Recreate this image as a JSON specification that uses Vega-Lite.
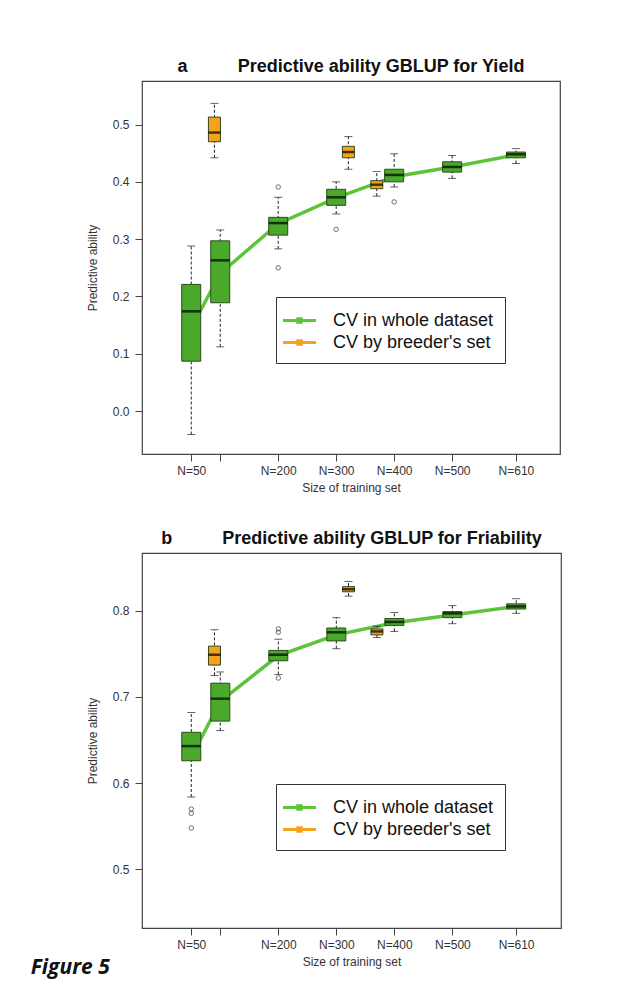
{
  "$schema": "https://vega.github.io/schema/vega-lite/v6.json",
  "background": "white",
  "padding": {"left": 30, "top": 57, "right": 20, "bottom": 10},
  "title": {"text": "Figure 5", "orient": "bottom", "anchor": "start", "font": "Open Sans", "fontSize": 21, "fontStyle": "italic", "fontWeight": "bold", "color": "#111", "dx": -55, "dy": -16},
  "spacing": 35,
  "datasets": {
    "boxA": [
      {"N": 50, "series": "CV in whole dataset", "min": -0.041, "q1": 0.087, "median": 0.174, "q3": 0.221, "max": 0.288},
      {"N": 100, "series": "CV in whole dataset", "min": 0.112, "q1": 0.189, "median": 0.263, "q3": 0.297, "max": 0.316},
      {"N": 200, "series": "CV in whole dataset", "min": 0.283, "q1": 0.307, "median": 0.328, "q3": 0.338, "max": 0.373},
      {"N": 300, "series": "CV in whole dataset", "min": 0.344, "q1": 0.359, "median": 0.373, "q3": 0.387, "max": 0.400},
      {"N": 400, "series": "CV in whole dataset", "min": 0.391, "q1": 0.400, "median": 0.412, "q3": 0.422, "max": 0.449},
      {"N": 500, "series": "CV in whole dataset", "min": 0.406, "q1": 0.417, "median": 0.426, "q3": 0.435, "max": 0.446},
      {"N": 610, "series": "CV in whole dataset", "min": 0.432, "q1": 0.442, "median": 0.448, "q3": 0.452, "max": 0.458},
      {"N": 90, "series": "CV by breeder's set", "min": 0.442, "q1": 0.470, "median": 0.486, "q3": 0.513, "max": 0.537},
      {"N": 321, "series": "CV by breeder's set", "min": 0.422, "q1": 0.442, "median": 0.452, "q3": 0.462, "max": 0.479},
      {"N": 370, "series": "CV by breeder's set", "min": 0.375, "q1": 0.388, "median": 0.395, "q3": 0.402, "max": 0.418}
    ],
    "outA": [
      {"N": 200, "value": 0.391},
      {"N": 200, "value": 0.250},
      {"N": 300, "value": 0.317},
      {"N": 400, "value": 0.365}
    ],
    "meanA": [
      {"N": 50, "series": "CV in whole dataset", "mean": 0.145},
      {"N": 100, "series": "CV in whole dataset", "mean": 0.240},
      {"N": 200, "series": "CV in whole dataset", "mean": 0.327},
      {"N": 300, "series": "CV in whole dataset", "mean": 0.372},
      {"N": 400, "series": "CV in whole dataset", "mean": 0.409},
      {"N": 500, "series": "CV in whole dataset", "mean": 0.426},
      {"N": 610, "series": "CV in whole dataset", "mean": 0.447}
    ],
    "boxB": [
      {"N": 50, "series": "CV in whole dataset", "min": 0.584, "q1": 0.626, "median": 0.643, "q3": 0.659, "max": 0.682},
      {"N": 100, "series": "CV in whole dataset", "min": 0.661, "q1": 0.672, "median": 0.698, "q3": 0.716, "max": 0.729},
      {"N": 200, "series": "CV in whole dataset", "min": 0.726, "q1": 0.742, "median": 0.749, "q3": 0.754, "max": 0.767},
      {"N": 300, "series": "CV in whole dataset", "min": 0.756, "q1": 0.765, "median": 0.775, "q3": 0.780, "max": 0.792},
      {"N": 400, "series": "CV in whole dataset", "min": 0.776, "q1": 0.783, "median": 0.787, "q3": 0.791, "max": 0.798},
      {"N": 500, "series": "CV in whole dataset", "min": 0.785, "q1": 0.792, "median": 0.797, "q3": 0.799, "max": 0.806},
      {"N": 610, "series": "CV in whole dataset", "min": 0.797, "q1": 0.802, "median": 0.805, "q3": 0.808, "max": 0.814},
      {"N": 90, "series": "CV by breeder's set", "min": 0.725, "q1": 0.737, "median": 0.749, "q3": 0.759, "max": 0.778},
      {"N": 321, "series": "CV by breeder's set", "min": 0.817, "q1": 0.822, "median": 0.825, "q3": 0.828, "max": 0.834},
      {"N": 370, "series": "CV by breeder's set", "min": 0.769, "q1": 0.772, "median": 0.776, "q3": 0.779, "max": 0.782}
    ],
    "outB": [
      {"N": 50, "value": 0.570},
      {"N": 50, "value": 0.565},
      {"N": 50, "value": 0.548},
      {"N": 200, "value": 0.779},
      {"N": 200, "value": 0.775},
      {"N": 200, "value": 0.722}
    ],
    "meanB": [
      {"N": 50, "series": "CV in whole dataset", "mean": 0.630},
      {"N": 100, "series": "CV in whole dataset", "mean": 0.695},
      {"N": 200, "series": "CV in whole dataset", "mean": 0.748},
      {"N": 300, "series": "CV in whole dataset", "mean": 0.772},
      {"N": 400, "series": "CV in whole dataset", "mean": 0.786},
      {"N": 500, "series": "CV in whole dataset", "mean": 0.795},
      {"N": 610, "series": "CV in whole dataset", "mean": 0.805}
    ]
  },
  "vconcat": [
    {
      "width": 418,
      "height": 373,
      "title": {"text": "a\u00a0\u00a0\u00a0\u00a0\u00a0\u00a0\u00a0\u00a0\u00a0\u00a0Predictive ability GBLUP for Yield"},
      "encoding": {
        "x": {"field": "N", "type": "quantitative", "scale": {"domain": [-26.3, 677.4], "nice": false, "zero": false},
              "axis": {"values": [50, 100, 200, 300, 400, 500, 610], "labelExpr": "datum.value == 100 ? '' : 'N=' + datum.value", "title": "Size of training set"}}
      },
      "layer": [
        {
          "data": {"name": "meanA"},
          "mark": {"type": "line", "strokeWidth": 3.5},
          "encoding": {
            "y": {"field": "mean", "type": "quantitative", "title": "Predictive ability", "scale": {"domain": [-0.075, 0.576], "nice": false, "zero": false}, "axis": {"values": [0, 0.1, 0.2, 0.3, 0.4, 0.5], "format": ".1f"}},
            "stroke": {"field": "series", "type": "nominal",
              "scale": {"domain": ["CV in whole dataset", "CV by breeder's set"], "range": ["#5dc43a", "#f6a21d"]},
              "legend": {"orient": "none", "legendX": 134, "legendY": 216, "title": null, "direction": "vertical",
                "labelFont": "Liberation Sans", "labelFontSize": 18, "labelColor": "#111", "labelLimit": 300,
                "symbolType": "M-1.5,0H1.5M-0.16,-0.16H0.16V0.16H-0.16Z", "symbolSize": 484, "symbolStrokeWidth": 3,
                "symbolOffset": 0, "labelOffset": 21, "strokeColor": "#333", "fillColor": "#ffffff", "padding": 11, "rowPadding": 0}}
          }
        },
        {
          "data": {"name": "boxA"},
          "mark": {"type": "rule", "strokeDash": [3, 2], "color": "#222", "strokeWidth": 1},
          "encoding": {
            "y": {"field": "min", "type": "quantitative", "title": "Predictive ability", "scale": {"domain": [-0.075, 0.576], "nice": false, "zero": false}},
            "y2": {"field": "max"}
          }
        },
        {
          "data": {"name": "boxA"},
          "mark": {"type": "tick", "orient": "horizontal", "size": 8, "thickness": 1, "color": "#222"},
          "encoding": {
            "y": {"field": "min", "type": "quantitative", "title": "Predictive ability", "scale": {"domain": [-0.075, 0.576], "nice": false, "zero": false}}
          }
        },
        {
          "data": {"name": "boxA"},
          "mark": {"type": "tick", "orient": "horizontal", "size": 8, "thickness": 1, "color": "#222"},
          "encoding": {
            "y": {"field": "max", "type": "quantitative", "title": "Predictive ability", "scale": {"domain": [-0.075, 0.576], "nice": false, "zero": false}}
          }
        },
        {
          "data": {"name": "boxA"},
          "mark": {"type": "bar", "stroke": "#2e4a1c", "strokeWidth": 1},
          "encoding": {
            "y": {"field": "q1", "type": "quantitative", "title": "Predictive ability", "scale": {"domain": [-0.075, 0.576], "nice": false, "zero": false}},
            "y2": {"field": "q3"},
            "fill": {"field": "series", "type": "nominal", "scale": {"domain": ["CV in whole dataset", "CV by breeder's set"], "range": ["#4aa82b", "#f6a21d"]}, "legend": null},
            "size": {"field": "series", "type": "nominal", "scale": {"domain": ["CV in whole dataset", "CV by breeder's set"], "range": [19, 12]}, "legend": null}
          }
        },
        {
          "data": {"name": "boxA"},
          "mark": {"type": "tick", "orient": "horizontal", "thickness": 2.5, "color": "#000"},
          "encoding": {
            "y": {"field": "median", "type": "quantitative", "title": "Predictive ability", "scale": {"domain": [-0.075, 0.576], "nice": false, "zero": false}},
            "size": {"field": "series", "type": "nominal", "scale": {"domain": ["CV in whole dataset", "CV by breeder's set"], "range": [19, 12]}, "legend": null}
          }
        },
        {
          "data": {"name": "outA"},
          "mark": {"type": "point", "shape": "circle", "filled": false, "stroke": "#333", "strokeWidth": 1, "size": 20},
          "encoding": {
            "y": {"field": "value", "type": "quantitative", "title": "Predictive ability", "scale": {"domain": [-0.075, 0.576], "nice": false, "zero": false}}
          }
        }
      ]
    },
    {
      "width": 419,
      "height": 375,
      "title": {"text": "b\u00a0\u00a0\u00a0\u00a0\u00a0\u00a0\u00a0\u00a0\u00a0\u00a0Predictive ability GBLUP for Friability"},
      "encoding": {
        "x": {"field": "N", "type": "quantitative", "scale": {"domain": [-26.3, 678.6], "nice": false, "zero": false},
              "axis": {"values": [50, 100, 200, 300, 400, 500, 610], "labelExpr": "datum.value == 100 ? '' : 'N=' + datum.value", "title": "Size of training set"}}
      },
      "layer": [
        {
          "data": {"name": "meanB"},
          "mark": {"type": "line", "strokeWidth": 3.5},
          "encoding": {
            "y": {"field": "mean", "type": "quantitative", "title": "Predictive ability", "scale": {"domain": [0.432, 0.867], "nice": false, "zero": false}, "axis": {"values": [0.5, 0.6, 0.7, 0.8], "format": ".1f"}},
            "stroke": {"field": "series", "type": "nominal",
              "scale": {"domain": ["CV in whole dataset", "CV by breeder's set"], "range": ["#5dc43a", "#f6a21d"]},
              "legend": {"orient": "none", "legendX": 134, "legendY": 231, "title": null, "direction": "vertical",
                "labelFont": "Liberation Sans", "labelFontSize": 18, "labelColor": "#111", "labelLimit": 300,
                "symbolType": "M-1.5,0H1.5M-0.16,-0.16H0.16V0.16H-0.16Z", "symbolSize": 484, "symbolStrokeWidth": 3,
                "symbolOffset": 0, "labelOffset": 21, "strokeColor": "#333", "fillColor": "#ffffff", "padding": 11, "rowPadding": 0}}
          }
        },
        {
          "data": {"name": "boxB"},
          "mark": {"type": "rule", "strokeDash": [3, 2], "color": "#222", "strokeWidth": 1},
          "encoding": {
            "y": {"field": "min", "type": "quantitative", "title": "Predictive ability", "scale": {"domain": [0.432, 0.867], "nice": false, "zero": false}},
            "y2": {"field": "max"}
          }
        },
        {
          "data": {"name": "boxB"},
          "mark": {"type": "tick", "orient": "horizontal", "size": 8, "thickness": 1, "color": "#222"},
          "encoding": {
            "y": {"field": "min", "type": "quantitative", "title": "Predictive ability", "scale": {"domain": [0.432, 0.867], "nice": false, "zero": false}}
          }
        },
        {
          "data": {"name": "boxB"},
          "mark": {"type": "tick", "orient": "horizontal", "size": 8, "thickness": 1, "color": "#222"},
          "encoding": {
            "y": {"field": "max", "type": "quantitative", "title": "Predictive ability", "scale": {"domain": [0.432, 0.867], "nice": false, "zero": false}}
          }
        },
        {
          "data": {"name": "boxB"},
          "mark": {"type": "bar", "stroke": "#2e4a1c", "strokeWidth": 1},
          "encoding": {
            "y": {"field": "q1", "type": "quantitative", "title": "Predictive ability", "scale": {"domain": [0.432, 0.867], "nice": false, "zero": false}},
            "y2": {"field": "q3"},
            "fill": {"field": "series", "type": "nominal", "scale": {"domain": ["CV in whole dataset", "CV by breeder's set"], "range": ["#4aa82b", "#f6a21d"]}, "legend": null},
            "size": {"field": "series", "type": "nominal", "scale": {"domain": ["CV in whole dataset", "CV by breeder's set"], "range": [19, 12]}, "legend": null}
          }
        },
        {
          "data": {"name": "boxB"},
          "mark": {"type": "tick", "orient": "horizontal", "thickness": 2.5, "color": "#000"},
          "encoding": {
            "y": {"field": "median", "type": "quantitative", "title": "Predictive ability", "scale": {"domain": [0.432, 0.867], "nice": false, "zero": false}},
            "size": {"field": "series", "type": "nominal", "scale": {"domain": ["CV in whole dataset", "CV by breeder's set"], "range": [19, 12]}, "legend": null}
          }
        },
        {
          "data": {"name": "outB"},
          "mark": {"type": "point", "shape": "circle", "filled": false, "stroke": "#333", "strokeWidth": 1, "size": 20},
          "encoding": {
            "y": {"field": "value", "type": "quantitative", "title": "Predictive ability", "scale": {"domain": [0.432, 0.867], "nice": false, "zero": false}}
          }
        }
      ]
    }
  ],
  "resolve": {"scale": {"x": "independent", "y": "independent", "stroke": "independent"}, "legend": {"stroke": "independent"}},
  "config": {
    "view": {"stroke": "#444", "strokeWidth": 1.2},
    "title": {"font": "Liberation Sans", "fontSize": 18, "fontWeight": "bold", "color": "#111", "anchor": "middle", "offset": 5},
    "axis": {"grid": false, "domain": false, "tickSize": 7, "tickColor": "#444", "labelFont": "Liberation Sans", "labelFontSize": 12, "labelColor": "#333", "titleFont": "Liberation Sans", "titleFontSize": 12, "titleFontWeight": "normal", "titleColor": "#333"},
    "axisY": {"labelPadding": 6, "titlePadding": 13},
    "axisX": {"labelPadding": 4, "titlePadding": 6}
  }
}
